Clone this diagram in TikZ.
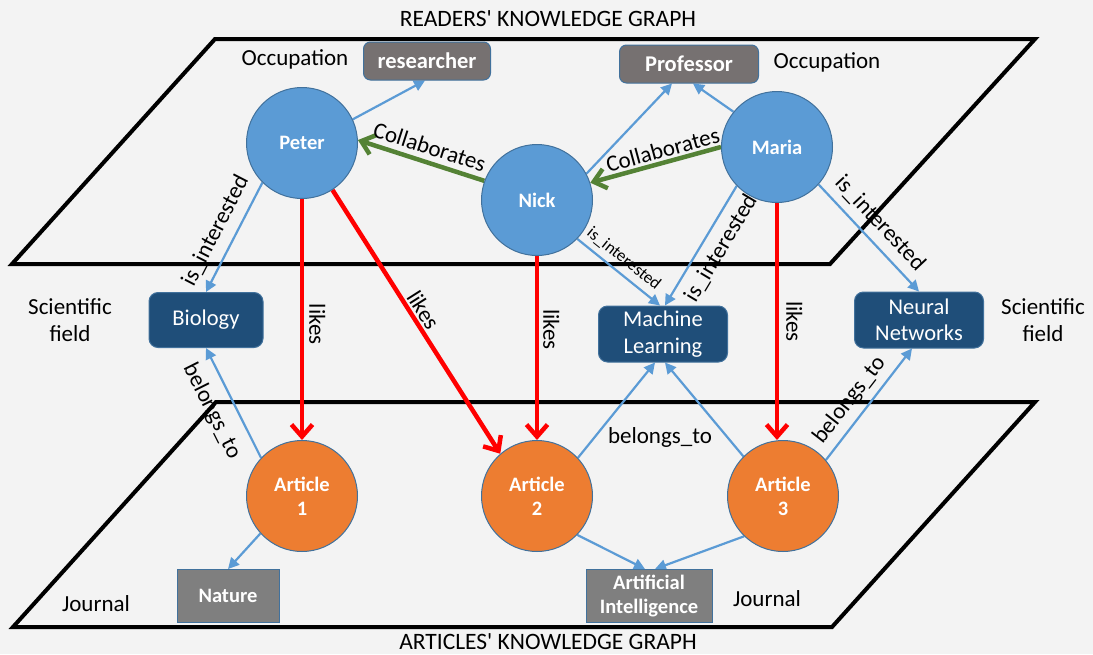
\documentclass[tikz,border=0pt]{standalone}
\usepackage{fontspec}
\setmainfont{Carlito}
\usetikzlibrary{arrows.meta,backgrounds,calc}

\definecolor{paper}{HTML}{F3F3F3}
\definecolor{readerblue}{HTML}{5B9BD5}
\definecolor{linkblue}{HTML}{5B9BD5}
\definecolor{rim}{HTML}{41719C}
\definecolor{fieldnavy}{HTML}{1F4E79}
\definecolor{articleorange}{HTML}{ED7D31}
\definecolor{occgray}{HTML}{767171}
\definecolor{journalgray}{HTML}{7F7F7F}
\definecolor{collabgreen}{HTML}{548235}
\definecolor{likered}{HTML}{FF0000}

\tikzset{
  bigfont/.style={font=\fontsize{23}{27}\selectfont},
  reader/.style={circle, fill=readerblue, draw=rim, line width=1pt,
    minimum size=111pt, inner sep=0pt, text=white,
    font=\fontsize{20.5}{24}\selectfont\bfseries},
  article/.style={reader, fill=articleorange, align=center},
  occbox/.style={rectangle, rounded corners=7pt, fill=occgray, draw=rim,
    line width=1pt, minimum height=38pt, inner sep=0pt, text=white,
    font=\fontsize{22.5}{26}\selectfont\bfseries},
  fieldbox/.style={rectangle, rounded corners=9pt, fill=fieldnavy, draw=rim,
    line width=1pt, minimum height=56pt, inner sep=0pt, text=white,
    align=center, font=\fontsize{22.5}{26.5}\selectfont},
  journalbox/.style={rectangle, fill=journalgray, draw=rim, line width=1pt,
    minimum height=53pt, inner sep=0pt, text=white, align=center,
    font=\fontsize{20.5}{24}\selectfont\bfseries},
  caption/.style={bigfont, align=center, inner sep=0pt},
  titlefont/.style={font=\fontsize{23.5}{28}\selectfont, inner sep=0pt},
  lbl/.style={bigfont, inner sep=2pt},
  smalllbl/.style={font=\fontsize{17}{20}\selectfont, inner sep=2pt},
  plane/.style={draw=black, line width=4pt, line join=miter},
  bluearrow/.style={draw=linkblue, line width=2.2pt,
    -{Triangle[length=11pt,width=11pt]}},
  redarrow/.style={draw=likered, line width=4.5pt,
    -{Straight Barb[length=12pt,width=21pt]}},
  greenarrow/.style={draw=collabgreen, line width=4.5pt,
    -{Straight Barb[length=12pt,width=20pt]}},
}

\begin{document}
\begin{tikzpicture}[x=1pt, y=-1pt]
\useasboundingbox (0,0) rectangle (1093,654);

% ---- readers' graph: people and occupations
\node[occbox, minimum width=127pt] (researcher) at (427,61) {researcher};
\node[occbox, minimum width=139pt] (professor) at (689,64) {Professor};
\node[reader] (peter) at (302,143) {Peter};
\node[reader] (nick)  at (537,200) {Nick};
\node[reader] (maria) at (777,147) {Maria};

% ---- scientific fields
\node[fieldbox, minimum width=114pt, minimum height=55pt] (biology) at (206,320) {Biology};
\node[fieldbox, minimum width=129pt] (ml) at (663,334) {Machine\\Learning};
\node[fieldbox, minimum width=129pt] (nn) at (919,320) {Neural\\Networks};

% ---- articles' graph
\node[article] (a1) at (302,496) {Article\\1};
\node[article] (a2) at (537,496) {Article\\2};
\node[article] (a3) at (783,496) {Article\\3};
\node[journalbox, minimum width=102pt] (nature) at (228,596) {Nature};
\node[journalbox, minimum width=126pt] (ai) at (649,596) {Artificial\\Intelligence};

% ---- free captions
\node[titlefont] (titleTop) at (548,19) {READERS\textquotesingle{} KNOWLEDGE GRAPH};
\node[titlefont] (titleBottom) at (548,642) {ARTICLES\textquotesingle{} KNOWLEDGE GRAPH};
\node[caption] (occLeft) at (295,59) {Occupation};
\node[caption] (occRight) at (827,62) {Occupation};
\node[caption] (fieldLeft) at (70,320) {Scientific\\field};
\node[caption] (fieldRight) at (1043,320) {Scientific\\field};
\node[caption] (journalLeft) at (96,604) {Journal};
\node[caption] (journalRight) at (767,599) {Journal};
\node[lbl] (belongsMid) at (660,437) {belongs\_to};

\begin{pgfonlayer}{background}
  \fill[paper] (0,0) rectangle (1093,654);
  % the two knowledge-graph planes
  \draw[plane] (215,39) -- (1035,39) -- (830,264) -- (12,264) -- cycle;
  \draw[plane] (216,402) -- (1035,402) -- (832,627) -- (13,627) -- cycle;

  % occupations
  \draw[bluearrow] (peter.25) -- ([xshift=-2pt]researcher.south);
  \draw[bluearrow] (nick.28) -- ([xshift=-17pt]professor.south);
  \draw[bluearrow] (maria.141) -- ([xshift=4pt]professor.south);

  % collaborations
  \draw[greenarrow] (nick.160) -- node[lbl, sloped, above=3.5pt, pos=0.47] {Collaborates} (peter.3);
  \draw[greenarrow] (maria.west) -- node[lbl, sloped, above=0.5pt, pos=0.42] {Collaborates} (nick.18);

  % interests
  \draw[bluearrow] (peter.225) -- node[lbl, sloped, above=7pt, pos=0.52] {is\_interested} (biology.north);
  \draw[bluearrow] (nick.316) -- node[smalllbl, sloped, above=3.5pt, pos=0.46] {is\_interested} ([xshift=-3pt]ml.north);
  \draw[bluearrow] (maria.224) -- node[lbl, sloped, below=6pt, pos=0.44] {is\_interested} ([xshift=2pt]ml.north);
  \draw[bluearrow] (maria.318) -- node[lbl, sloped, above=5.5pt, pos=0.48] {is\_interested} (nn.north);

  % likes
  \draw[redarrow] (peter.south) -- node[lbl, sloped, above=3pt, pos=0.52] {likes} (a1.north);
  \draw[redarrow] (peter.303) -- node[lbl, sloped, above=0pt, pos=0.48] {likes} (a2.131);
  \draw[redarrow] (nick.south) -- node[lbl, sloped, above=2pt, pos=0.4] {likes} (a2.north);
  \draw[redarrow] (maria.south) -- node[lbl, sloped, above=5pt, pos=0.5] {likes} (maria.south |- a3.north);

  % article fields
  \draw[bluearrow] (a1.137) -- node[lbl, sloped, below=10pt, pos=0.52] {belongs\_to} (biology.south);
  \draw[bluearrow] (a2.43) -- ([xshift=-8pt]ml.south);
  \draw[bluearrow] (a3.135) -- ([xshift=2pt]ml.south);
  \draw[bluearrow] (a3.40) -- node[lbl, sloped, above=5pt, pos=0.44] {belongs\_to} ([xshift=-7pt]nn.south);

  % journals
  \draw[bluearrow] (a1.222) -- (nature.north);
  \draw[bluearrow] (a2.316) -- ([xshift=-4pt]ai.north);
  \draw[bluearrow] (a3.226) -- ([xshift=6pt]ai.north);
\end{pgfonlayer}
\end{tikzpicture}
\end{document}
